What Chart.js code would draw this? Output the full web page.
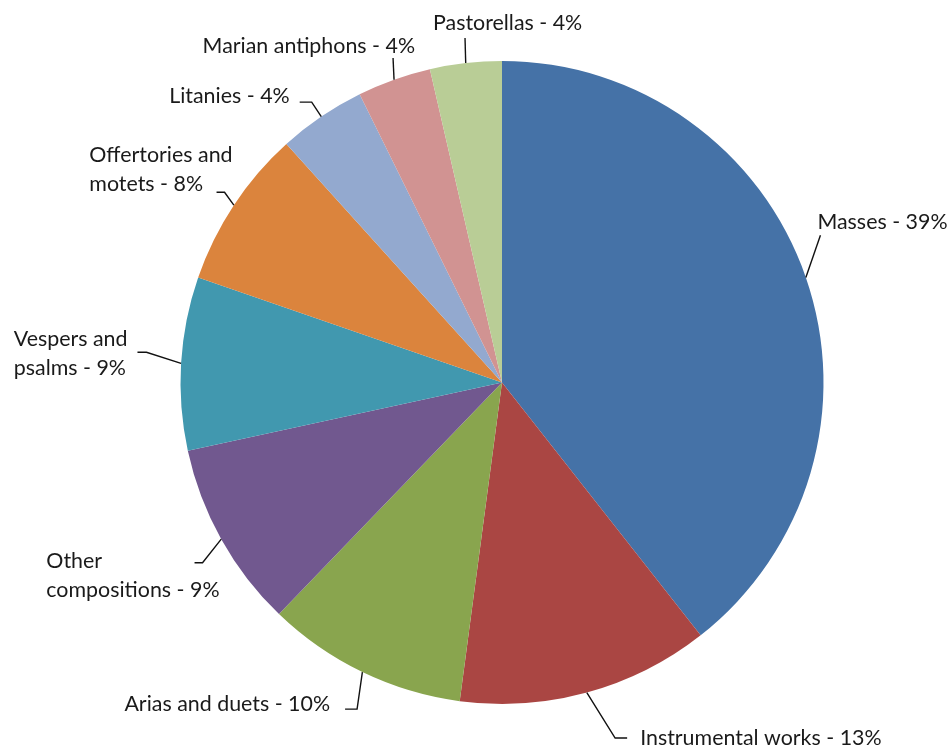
<!DOCTYPE html>
<html>
<head>
<meta charset="utf-8">
<script src="https://cdn.jsdelivr.net/npm/chart.js@4.4.1/dist/chart.umd.min.js"></script>
<style>
  html, body { margin: 0; padding: 0; background: #ffffff; }
  canvas { display: block; }
</style>
</head>
<body>
<canvas id="chart" width="947" height="746"></canvas>
<script>
// ---- data ----
const categories = [
  "Masses", "Instrumental works", "Arias and duets", "Other compositions",
  "Vespers and psalms", "Offertories and motets", "Litanies",
  "Marian antiphons", "Pastorellas"
];
const shares = [39.4, 12.7, 10.1, 9.4, 8.7, 8.0, 4.4, 3.7, 3.6];

// ---- styles ----
const sliceColors = [
  "#4572A7", "#AA4643", "#89A54E", "#71588F", "#4198AF",
  "#DB843D", "#93A9CF", "#D19392", "#B9CD96"
];
const FONT_SIZE = 21.4;
const FONT = FONT_SIZE + "px Lato, 'Open Sans', sans-serif";
const CAP = FONT_SIZE * 0.72;
const LINE_H = 29;

// label layout relative to the slice's outer mid-point (computed by Chart.js)
// elbow: leader bend offset, tail: horizontal tick, anchor: which block edge is placed,
// dx/dy: block edge / vertical centre relative to the leader end, breakAfter: words on line 1
const labelLayout = [
  { elbow: [14.6, -42.1], tail: 0,   anchor: "left",  dx: -3,  dy: -14, breakAfter: 0 },
  { elbow: [28.3, 45.4],  tail: 12,  anchor: "left",  dx: 13,  dy: -1,  breakAfter: 0 },
  { elbow: [-5.3, 37],    tail: -12, anchor: "right", dx: -15, dy: -6,  breakAfter: 0 },
  { elbow: [-18.7, 23.6], tail: -8,  anchor: "right", dx: 25,  dy: 12,  breakAfter: 1 },
  { elbow: [-34.6, -11],  tail: -9,  anchor: "right", dx: -10, dy: 0,   breakAfter: 2 },
  { elbow: [-9.3, -12.9], tail: -8,  anchor: "right", dx: 16,  dy: -23, breakAfter: 2 },
  { elbow: [-9.6, -14.5], tail: -12, anchor: "right", dx: -10, dy: -7,  breakAfter: 0 },
  { elbow: [-1, -21.6],   tail: 0,   anchor: "right", dx: 22,  dy: -13, breakAfter: 0 },
  { elbow: [-0.7, -25],   tail: 0,   anchor: "left",  dx: -32, dy: -16, breakAfter: 0 }
];

const pieLabels = {
  id: "pieLabels",
  afterDatasetsDraw(chart) {
    const ctx = chart.ctx;
    const meta = chart.getDatasetMeta(0);
    const total = shares.reduce((a, b) => a + b, 0);
    ctx.save();
    ctx.font = FONT;
    ctx.fillStyle = "#1a1a1a";
    ctx.strokeStyle = "#111111";
    ctx.lineWidth = 1.4;
    ctx.textBaseline = "alphabetic";
    ctx.textAlign = "left";
    meta.data.forEach((arc, i) => {
      const p = arc.getProps(["x", "y", "startAngle", "endAngle", "outerRadius"], true);
      const mid = (p.startAngle + p.endAngle) / 2;
      const ex = p.x + Math.cos(mid) * p.outerRadius;
      const ey = p.y + Math.sin(mid) * p.outerRadius;
      const L = labelLayout[i];
      const bx = ex + L.elbow[0], by = ey + L.elbow[1];
      const tx = bx + L.tail, ty = by;
      ctx.beginPath();
      ctx.moveTo(ex, ey);
      ctx.lineTo(bx, by);
      if (L.tail) ctx.lineTo(tx, ty);
      ctx.stroke();

      const pct = Math.round(shares[i] / total * 100);
      const full = categories[i] + " - " + pct + "%";
      let lines;
      if (L.breakAfter > 0) {
        const words = full.split(" ");
        lines = [words.slice(0, L.breakAfter).join(" "), words.slice(L.breakAfter).join(" ")];
      } else {
        lines = [full];
      }
      const w = Math.max(...lines.map(s => ctx.measureText(s).width));
      const left = L.anchor === "left" ? tx + L.dx : tx + L.dx - w;
      const cy = ty + L.dy;
      lines.forEach((s, k) => {
        const lineCenter = cy + (k - (lines.length - 1) / 2) * LINE_H;
        ctx.fillText(s, left, lineCenter + CAP / 2);
      });
    });
    ctx.restore();
  }
};

new Chart(document.getElementById("chart"), {
  type: "pie",
  data: {
    labels: categories,
    datasets: [{
      data: shares,
      backgroundColor: sliceColors,
      borderWidth: 0,
      hoverOffset: 0
    }]
  },
  options: {
    responsive: false,
    animation: false,
    events: [],
    layout: { padding: { top: 61, bottom: 42, left: 150, right: 93 } },
    plugins: {
      legend: { display: false },
      tooltip: { enabled: false }
    }
  },
  plugins: [pieLabels]
});
</script>
</body>
</html>
